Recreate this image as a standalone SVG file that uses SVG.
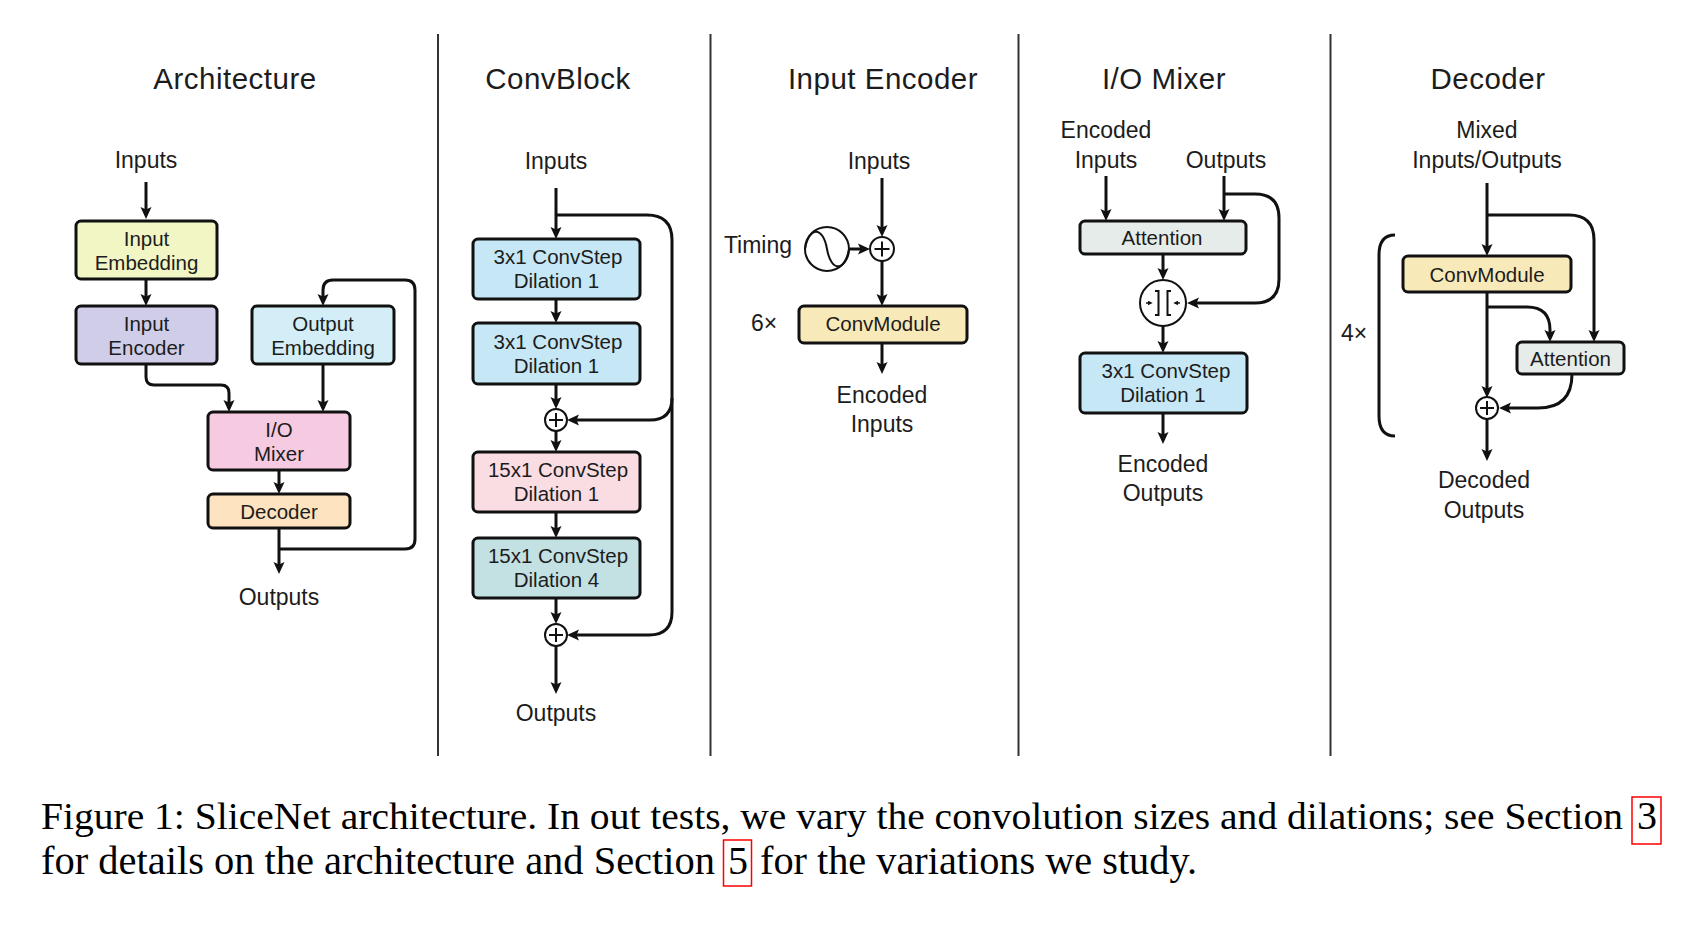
<svg xmlns="http://www.w3.org/2000/svg" width="1688" height="930" viewBox="0 0 1688 930">
<style>
.t{font-family:"Liberation Sans",Arial,sans-serif;fill:#1c1c1c;text-anchor:middle}
.title{font-size:29.5px;letter-spacing:0.5px}
.lbl{font-size:23px}
.bx{font-size:20.5px}
.box{stroke:#111;stroke-width:3}
.ln{fill:none;stroke:#111;stroke-width:3}
.ar{marker-end:url(#ah)}
.op{fill:#fff;stroke:#111;stroke-width:2}
.thin{fill:none;stroke:#111;stroke-width:2}
.sep{stroke:#333;stroke-width:2}
.cap{font-family:"Liberation Serif","Times New Roman",serif;font-size:40px;fill:#000}
.rb{fill:none;stroke:#f00;stroke-width:1.5}
.c-ie{fill:#f2f5c4}.c-enc{fill:#d0cde8}.c-oe{fill:#d3eef6}.c-mix{fill:#f6cae0}.c-dec{fill:#fde3bf}
.c-cs{fill:#c6e7f5}.c-p{fill:#fadde3}.c-tl{fill:#c3e1e3}.c-cm{fill:#f8e9b8}.c-at{fill:#e6ecea}
</style>
<defs>
<marker id="ah" viewBox="0 0 12 12" markerWidth="12" markerHeight="12" markerUnits="userSpaceOnUse" refX="8" refY="6" orient="auto">
<path d="M0,0.5 L12,6 L0,11.5 L2.5,6 z" fill="#111"/>
</marker>
<marker id="sa" viewBox="0 0 6 6" markerWidth="5" markerHeight="5" markerUnits="userSpaceOnUse" refX="4" refY="3" orient="auto">
<path d="M0,0 L6,3 L0,6 z" fill="#111"/>
</marker>
</defs>
<rect width="1688" height="930" fill="#fff"/>

<g id="separators">
<line class="sep" x1="438" y1="34" x2="438" y2="756"/>
<line class="sep" x1="710.5" y1="34" x2="710.5" y2="756"/>
<line class="sep" x1="1018.5" y1="34" x2="1018.5" y2="756"/>
<line class="sep" x1="1330.5" y1="34" x2="1330.5" y2="756"/>
</g>

<g id="titles">
<text class="t title" x="235" y="89">Architecture</text>
<text class="t title" x="558" y="89">ConvBlock</text>
<text class="t title" x="883" y="89">Input Encoder</text>
<text class="t title" x="1164" y="89">I/O Mixer</text>
<text class="t title" x="1488" y="89">Decoder</text>
</g>

<g id="connectors">
<!-- Architecture -->
<path class="ln ar" d="M146,182 V215"/>
<path class="ln ar" d="M146,279 V302"/>
<path class="ln ar" d="M146,364 V377 Q146,385 154,385 H221 Q229,385 229,393 V408"/>
<path class="ln ar" d="M323,364 V408"/>
<path class="ln ar" d="M279,470 V490"/>
<path class="ln ar" d="M279,528 V570"/>
<path class="ln ar" d="M279,549 H405 Q415,549 415,539 V290 Q415,280 405,280 H333 Q323,280 323,290 V302"/>
<!-- ConvBlock -->
<path class="ln ar" d="M556,188 V235"/>
<path class="ln ar" d="M556,215 H647 Q672,215 672,240 V612 Q672,635 649,635 H571"/>
<path class="ln ar" d="M672,398 Q672,420 650,420 H571"/>
<path class="ln ar" d="M556,299 V319"/>
<path class="ln ar" d="M556,384 V405"/>
<path class="ln ar" d="M556,431 V448"/>
<path class="ln ar" d="M556,512 V534"/>
<path class="ln ar" d="M556,598 V620"/>
<path class="ln ar" d="M556,646 V690"/>
<!-- Input Encoder -->
<path class="ln ar" d="M882,178 V233"/>
<path class="ln ar" d="M849,249 H866"/>
<path class="ln ar" d="M882,261 V302"/>
<path class="ln ar" d="M882,343 V370"/>
<!-- I/O Mixer -->
<path class="ln ar" d="M1106,176 V217"/>
<path class="ln ar" d="M1224,176 V217"/>
<path class="ln ar" d="M1224,194 H1255 Q1279,194 1279,218 V279 Q1279,303 1255,303 H1191"/>
<path class="ln ar" d="M1163,254 V276"/>
<path class="ln ar" d="M1163,326 V349"/>
<path class="ln ar" d="M1163,413 V440"/>
<!-- Decoder -->
<path class="ln ar" d="M1487,183 V252"/>
<path class="ln ar" d="M1487,215 H1569 Q1594,215 1594,240 V338"/>
<path class="ln ar" d="M1487,292 V394"/>
<path class="ln ar" d="M1487,307 H1527 Q1550,307 1550,330 V338"/>
<path class="ln ar" d="M1572,374 Q1572,408 1538,408 H1503"/>
<path class="ln ar" d="M1487,419 V457"/>
</g>

<!-- Architecture nodes -->
<g id="arch-inputs"><text class="t lbl" x="146" y="168">Inputs</text></g>
<g id="arch-input-embedding">
<rect class="box c-ie" x="76" y="221" width="141" height="58" rx="5"/>
<text class="t bx" x="146.5" y="245.5">Input</text>
<text class="t bx" x="146.5" y="269.5">Embedding</text>
</g>
<g id="arch-input-encoder">
<rect class="box c-enc" x="76" y="306" width="141" height="58" rx="5"/>
<text class="t bx" x="146.5" y="330.5">Input</text>
<text class="t bx" x="146.5" y="354.5">Encoder</text>
</g>
<g id="arch-output-embedding">
<rect class="box c-oe" x="252" y="306" width="142" height="58" rx="5"/>
<text class="t bx" x="323" y="330.5">Output</text>
<text class="t bx" x="323" y="354.5">Embedding</text>
</g>
<g id="arch-io-mixer">
<rect class="box c-mix" x="208" y="412" width="142" height="58" rx="5"/>
<text class="t bx" x="279" y="436.5">I/O</text>
<text class="t bx" x="279" y="460.5">Mixer</text>
</g>
<g id="arch-decoder">
<rect class="box c-dec" x="208" y="494" width="142" height="34" rx="5"/>
<text class="t bx" x="279" y="518.5">Decoder</text>
</g>
<g id="arch-outputs"><text class="t lbl" x="279" y="604.5">Outputs</text></g>

<!-- ConvBlock nodes -->
<g id="cb-inputs"><text class="t lbl" x="556" y="168.5">Inputs</text></g>
<g id="cb-step1">
<rect class="box c-cs" x="473" y="239" width="167" height="60" rx="5"/>
<text class="t bx" x="558" y="264">3x1 ConvStep</text>
<text class="t bx" x="556.5" y="288">Dilation 1</text>
</g>
<g id="cb-step2">
<rect class="box c-cs" x="473" y="323" width="167" height="61" rx="5"/>
<text class="t bx" x="558" y="348.5">3x1 ConvStep</text>
<text class="t bx" x="556.5" y="372.5">Dilation 1</text>
</g>
<g id="cb-add1">
<circle class="op" cx="556" cy="420" r="11"/>
<path class="thin" d="M549,420 H563 M556,413 V427"/>
</g>
<g id="cb-step3">
<rect class="box c-p" x="473" y="452" width="167" height="60" rx="5"/>
<text class="t bx" x="558" y="477">15x1 ConvStep</text>
<text class="t bx" x="556.5" y="501">Dilation 1</text>
</g>
<g id="cb-step4">
<rect class="box c-tl" x="473" y="538" width="167" height="60" rx="5"/>
<text class="t bx" x="558" y="563">15x1 ConvStep</text>
<text class="t bx" x="556.5" y="587">Dilation 4</text>
</g>
<g id="cb-add2">
<circle class="op" cx="556" cy="635" r="11"/>
<path class="thin" d="M549,635 H563 M556,628 V642"/>
</g>
<g id="cb-outputs"><text class="t lbl" x="556" y="721">Outputs</text></g>

<!-- Input Encoder nodes -->
<g id="ie-inputs"><text class="t lbl" x="879" y="168.5">Inputs</text></g>
<g id="ie-timing">
<text class="t lbl" x="758" y="253">Timing</text>
<circle class="op" cx="827" cy="249" r="22"/>
<path class="thin" d="M805,249 C809,226 823,226 827,249 C831,272 845,272 849,249"/>
</g>
<g id="ie-add">
<circle class="op" cx="882" cy="249" r="12"/>
<path class="thin" d="M874.5,249 H889.5 M882,241.5 V256.5"/>
</g>
<g id="ie-convmodule">
<text class="t lbl" x="764" y="331">6×</text>
<rect class="box c-cm" x="799" y="306" width="168" height="37" rx="5"/>
<text class="t bx" x="883" y="331">ConvModule</text>
</g>
<g id="ie-encoded-inputs">
<text class="t lbl" x="882" y="403">Encoded</text>
<text class="t lbl" x="882" y="431.5">Inputs</text>
</g>

<!-- I/O Mixer nodes -->
<g id="mx-encoded-inputs">
<text class="t lbl" x="1106" y="138">Encoded</text>
<text class="t lbl" x="1106" y="167.5">Inputs</text>
</g>
<g id="mx-outputs"><text class="t lbl" x="1226" y="167.5">Outputs</text></g>
<g id="mx-attention">
<rect class="box c-at" x="1080" y="221" width="166" height="33" rx="5"/>
<text class="t bx" x="1162" y="245">Attention</text>
</g>
<g id="mx-concat">
<circle class="op" cx="1163" cy="303" r="23"/>
<path class="thin" d="M1155,291 H1158.5 V315 H1155 M1171,291 H1167.5 V315 H1171"/>
<path fill="none" stroke="#111" stroke-width="1.5" marker-end="url(#sa)" d="M1146,303 H1151"/>
<path fill="none" stroke="#111" stroke-width="1.5" marker-end="url(#sa)" d="M1180,303 H1175"/>
</g>
<g id="mx-convstep">
<rect class="box c-cs" x="1080" y="353" width="167" height="60" rx="5"/>
<text class="t bx" x="1166" y="378">3x1 ConvStep</text>
<text class="t bx" x="1163" y="402">Dilation 1</text>
</g>
<g id="mx-encoded-outputs">
<text class="t lbl" x="1163" y="472">Encoded</text>
<text class="t lbl" x="1163" y="501">Outputs</text>
</g>

<!-- Decoder nodes -->
<g id="dec-mixed">
<text class="t lbl" x="1487" y="138">Mixed</text>
<text class="t lbl" x="1487" y="167.5">Inputs/Outputs</text>
</g>
<g id="dec-repeat">
<path class="ln" d="M1395,235 Q1379,235 1379,255 V416 Q1379,436 1395,436"/>
<text class="t lbl" x="1354" y="341">4×</text>
</g>
<g id="dec-convmodule">
<rect class="box c-cm" x="1403" y="256" width="168" height="36" rx="5"/>
<text class="t bx" x="1487" y="281.5">ConvModule</text>
</g>
<g id="dec-attention">
<rect class="box c-at" x="1517" y="342" width="107" height="32" rx="5"/>
<text class="t bx" x="1570.5" y="365.5">Attention</text>
</g>
<g id="dec-add">
<circle class="op" cx="1487" cy="408" r="11"/>
<path class="thin" d="M1480,408 H1494 M1487,401 V415"/>
</g>
<g id="dec-outputs">
<text class="t lbl" x="1484" y="488">Decoded</text>
<text class="t lbl" x="1484" y="517.5">Outputs</text>
</g>

<g id="caption">
<text class="cap" x="41" y="829" style="font-size:38px" textLength="1582" lengthAdjust="spacingAndGlyphs">Figure 1: SliceNet architecture. In out tests, we vary the convolution sizes and dilations; see Section</text>
<text class="cap" x="1637" y="829">3</text>
<rect class="rb" x="1632" y="797" width="29" height="47"/>
<text class="cap" x="41" y="874" textLength="674" lengthAdjust="spacingAndGlyphs">for details on the architecture and Section</text>
<text class="cap" x="728" y="874">5</text>
<rect class="rb" x="723.5" y="840" width="28" height="46"/>
<text class="cap" x="760" y="874" textLength="437" lengthAdjust="spacingAndGlyphs">for the variations we study.</text>
</g>
</svg>
